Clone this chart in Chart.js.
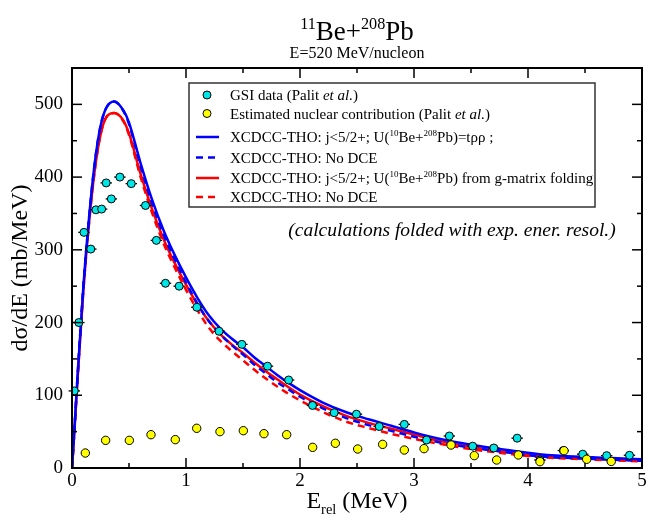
<!DOCTYPE html>
<html><head><meta charset="utf-8">
<script src="https://cdn.jsdelivr.net/npm/chart.js@4.4.1/dist/chart.umd.min.js"></script>
<style>html,body{margin:0;padding:0;background:#fff;}</style>
</head><body>
<canvas id="c" width="649" height="521"></canvas>
<script>
// ---- data ----
const gsiX = [0.02,0.06,0.105,0.165,0.21,0.26,0.30,0.345,0.42,0.52,0.645,0.74,0.82,0.94,1.095,1.29,1.49,1.715,1.90,2.11,2.30,2.495,2.695,2.915,3.11,3.31,3.515,3.70,3.905,4.105,4.31,4.48,4.69,4.89];
const gsiY = [106,200,324,301,355,356,392,370,400,391,361,313,254,250,221,188,170,140,121,86,76,74,57,60,38.5,44,30,27.5,41,11,24,19,17,17.5];
const gsiXErr = [0.05,0.05,0.05,0.05,0.05,0.05,0.05,0.05,0.05,0.05,0.05,0.05,0.05,0.05,0.05,0.05,0.05,0.05,0.05,0.05,0.05,0.05,0.05,0.05,0.05,0.05,0.05,0.05,0.05,0.05,0.05,0.05,0.05,0.05];
const nucX = [0.117,0.295,0.503,0.693,0.906,1.094,1.298,1.503,1.684,1.883,2.111,2.31,2.506,2.725,2.915,3.088,3.325,3.529,3.725,3.915,4.105,4.316,4.515,4.73];
const nucY = [20.6,38,38,45.8,39,54.6,50,51.3,47.2,45.8,28.4,34,26.1,32.5,24.7,26.6,31.6,17,11,17.9,8.7,23.8,12,9];
const curveX = [0,0.02,0.05,0.1,0.15,0.2,0.25,0.3,0.37,0.45,0.5,0.6,0.7,0.8,0.9,1.0,1.1,1.2,1.3,1.4,1.5,1.6,1.7,1.8,1.9,2.0,2.2,2.4,2.6,2.8,3.0,3.2,3.5,3.8,4.1,4.5,5.0];
const blueSolid  = [0,50,130,250,345,420,470,495,504,492,475,420,370,328,293,262,234,210,192,178,166,152,140,128,117,107,90,77,67,58,49,41,32,25,19,15,12];
const blueDashed = [0,50,130,250,345,420,470,495,504,491,473,416,365,322,287,255,226,202,184,169,156,142,130,118,108,98,82,69,59,51,43,36,28,22,16,13,10];
const redSolid   = [0,48,125,245,338,410,458,482,488,478,460,405,357,316,282,252,225,202,184,170,158,145,133,122,111,101,85,72,62,54,46,38,29,22,16,13,10];
const redDashed  = [0,48,125,245,338,410,458,482,488,477,458,401,352,310,276,245,217,193,175,161,148,135,123,112,102,93,77,64,55,47,40,34,26,20,15,12,9];
const xMajor = [0,1,2,3,4,5];
const xMinor = [0.5,1.5,2.5,3.5,4.5];
const yMajor = [0,100,200,300,400,500];
const yMinor = [50,150,250,350,450];

const SERIF = '"Liberation Serif","Times New Roman",serif';
function fnt(size, italic){ return (italic?'italic ':'') + size + 'px ' + SERIF; }
function segSize(s,size){ return (s.s==='sup'||s.s==='sub') ? size*0.6 : size; }
function richWidth(ctx, segs, size){ let w=0; for(const s of segs){ ctx.font=fnt(segSize(s,size), s.s==='i'); w+=ctx.measureText(s.t).width; } return w; }
function drawRich(ctx, segs, x, y, size, align){
  const w = richWidth(ctx, segs, size);
  let cx = align==='center' ? x-w/2 : (align==='right' ? x-w : x);
  ctx.textAlign='left'; ctx.textBaseline='alphabetic'; ctx.fillStyle='#000';
  for(const s of segs){
    const sz = segSize(s,size);
    const dy = s.s==='sup' ? -size*0.42 : (s.s==='sub' ? size*0.25 : 0);
    ctx.font = fnt(sz, s.s==='i');
    ctx.fillText(s.t, cx, y+dy);
    cx += ctx.measureText(s.t).width;
  }
}
const pts = (xs, ys) => xs.map((x,i)=>({x:x, y:ys[i]}));

const legendEntries = [
  {ds:1, kind:'point', segs:[{t:'GSI data (Palit ',s:'n'},{t:'et al.',s:'i'},{t:')',s:'n'}]},
  {ds:0, kind:'point', segs:[{t:'Estimated nuclear contribution (Palit ',s:'n'},{t:'et al.',s:'i'},{t:')',s:'n'}]},
  {ds:2, kind:'line', segs:[{t:'XCDCC-THO: j<5/2+; U(',s:'n'},{t:'10',s:'sup'},{t:'Be+',s:'n'},{t:'208',s:'sup'},{t:'Pb)=tρρ ;',s:'n'}]},
  {ds:3, kind:'line', segs:[{t:'XCDCC-THO: No DCE',s:'n'}]},
  {ds:4, kind:'line', segs:[{t:'XCDCC-THO: j<5/2+; U(',s:'n'},{t:'10',s:'sup'},{t:'Be+',s:'n'},{t:'208',s:'sup'},{t:'Pb) from g-matrix folding',s:'n'}]},
  {ds:5, kind:'line', segs:[{t:'XCDCC-THO: No DCE',s:'n'}]}
];

const decor = {
  id:'decor',
  beforeDatasetDraw(chart, args){
    if(args.index!==1) return;
    const ctx=chart.ctx, xs=chart.scales.x, ys=chart.scales.y;
    ctx.save(); ctx.strokeStyle='#000'; ctx.lineWidth=1.3;
    gsiX.forEach((x,i)=>{
      const py=ys.getPixelForValue(gsiY[i]);
      ctx.beginPath(); ctx.moveTo(xs.getPixelForValue(x-gsiXErr[i]),py); ctx.lineTo(xs.getPixelForValue(x+gsiXErr[i]),py); ctx.stroke();
    });
    ctx.restore();
  },
  afterDraw(chart){
    const ctx=chart.ctx, a=chart.chartArea, xs=chart.scales.x, ys=chart.scales.y;
    ctx.save();
    ctx.strokeStyle='#000'; ctx.lineWidth=1.5;
    const tick=(x1,y1,x2,y2)=>{ctx.beginPath();ctx.moveTo(x1,y1);ctx.lineTo(x2,y2);ctx.stroke();};
    xMajor.forEach(v=>{const p=xs.getPixelForValue(v); tick(p,a.bottom,p,a.bottom-10); tick(p,a.top,p,a.top+10);});
    xMinor.forEach(v=>{const p=xs.getPixelForValue(v); tick(p,a.bottom,p,a.bottom-5); tick(p,a.top,p,a.top+5);});
    yMajor.forEach(v=>{const p=ys.getPixelForValue(v); tick(a.left,p,a.left+10,p); tick(a.right,p,a.right-10,p);});
    yMinor.forEach(v=>{const p=ys.getPixelForValue(v); tick(a.left,p,a.left+5,p); tick(a.right,p,a.right-5,p);});
    ctx.lineWidth=2; ctx.strokeRect(a.left,a.top,a.right-a.left,a.bottom-a.top);
    drawRich(ctx,[{t:'11',s:'sup'},{t:'Be+',s:'n'},{t:'208',s:'sup'},{t:'Pb',s:'n'}],(a.left+a.right)/2,40,27,'center');
    drawRich(ctx,[{t:'E=520 MeV/nucleon',s:'n'}],(a.left+a.right)/2,58,16,'center');
    drawRich(ctx,[{t:'E',s:'n'},{t:'rel',s:'sub'},{t:' (MeV)',s:'n'}],(a.left+a.right)/2,508,24,'center');
    ctx.save(); ctx.translate(21,(a.top+a.bottom)/2); ctx.rotate(-Math.PI/2);
    ctx.font=fnt(24,false); ctx.textAlign='center'; ctx.textBaseline='middle'; ctx.fillStyle='#000';
    ctx.fillText('dσ/dE (mb/MeV)',0,0); ctx.restore();
    drawRich(ctx,[{t:'(calculations folded with exp. ener. resol.)',s:'i'}],452,236,19.5,'center');
    const L=189, T=83, R=595, B=207;
    ctx.fillStyle='#fff'; ctx.fillRect(L,T,R-L,B-T);
    ctx.strokeStyle='#333'; ctx.lineWidth=1.5; ctx.strokeRect(L,T,R-L,B-T);
    const rows=[95,113.5,137,157.5,178,197];
    legendEntries.forEach((e,i)=>{
      const d=chart.data.datasets[e.ds], y=rows[i];
      if(e.kind==='point'){
        ctx.beginPath(); ctx.arc(207,y,4,0,Math.PI*2); ctx.fillStyle=d.backgroundColor; ctx.fill();
        ctx.strokeStyle='#000'; ctx.lineWidth=1; ctx.stroke();
      } else {
        ctx.strokeStyle=d.borderColor; ctx.lineWidth=2.5; ctx.setLineDash(d.borderDash||[]);
        ctx.beginPath(); ctx.moveTo(196,y); ctx.lineTo(219,y); ctx.stroke(); ctx.setLineDash([]);
      }
      drawRich(ctx,e.segs,230,y+5,15,'left');
    });
    ctx.restore();
  }
};

const lineDs = (label, data, color, dash) => ({
  label, data: pts(curveX, data), showLine:true, borderColor:color, backgroundColor:color,
  borderWidth:2.5, pointRadius:0, borderDash:dash, cubicInterpolationMode:'monotone', fill:false, order:2
});

new Chart(document.getElementById('c'), {
  type:'scatter',
  data:{ datasets:[
    {label:'Estimated nuclear contribution', data:pts(nucX,nucY), backgroundColor:'#ffff00', borderColor:'#000', borderWidth:1, pointRadius:4.2, order:0},
    {label:'GSI data', data:pts(gsiX,gsiY), backgroundColor:'#00e5e5', borderColor:'#000', borderWidth:1, pointRadius:4, order:1},
    lineDs('blue solid', blueSolid, '#0000ff', []),
    lineDs('blue dashed', blueDashed, '#0000ff', [7,5]),
    lineDs('red solid', redSolid, '#ff0000', []),
    lineDs('red dashed', redDashed, '#ff0000', [7,5])
  ]},
  options:{
    responsive:false, animation:false, devicePixelRatio:1,
    layout:{padding:{left:0,right:7,top:68,bottom:0}},
    plugins:{legend:{display:false}, tooltip:{enabled:false}, title:{display:false}},
    scales:{
      x:{type:'linear', min:0, max:5, afterFit:s=>{s.height=53;},
         grid:{display:false, drawTicks:false}, border:{display:false},
         ticks:{stepSize:1, includeBounds:false, padding:2, color:'#000', font:{family:SERIF,size:19}, maxRotation:0}},
      y:{type:'linear', min:0, max:550, afterFit:s=>{s.width=72;},
         grid:{display:false, drawTicks:false}, border:{display:false},
         ticks:{stepSize:100, includeBounds:false, padding:9, color:'#000', font:{family:SERIF,size:19}}}
    }
  },
  plugins:[decor]
});
</script>
</body></html>
